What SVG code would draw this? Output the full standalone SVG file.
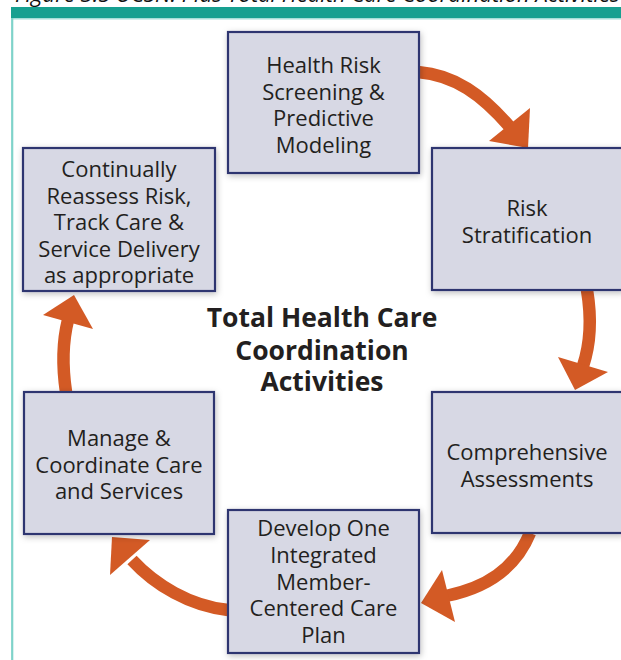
<svg xmlns="http://www.w3.org/2000/svg" width="621" height="660" viewBox="0 0 621 660">
<defs>
<style>
.box{fill:#d7d8e4;stroke:#2f3670;stroke-width:2.2;filter:url(#sh)}
.t{font-family:"Open Sans","Noto Sans",sans-serif;font-size:22px;fill:#231f20;text-anchor:middle}
.title{font-family:"Open Sans","Noto Sans",sans-serif;font-size:26.5px;font-weight:bold;fill:#231f20;text-anchor:middle}
.arc{fill:none;stroke:#d35a25;stroke-width:12.5}
.head{fill:#d35a25}
</style>
<filter id="sh" x="-20%" y="-20%" width="140%" height="140%">
<feDropShadow dx="1" dy="2" stdDeviation="3" flood-color="#000" flood-opacity="0.25"/>
</filter>
</defs>
<rect width="621" height="660" fill="#ffffff"/>
<text x="15" y="2" font-family="Open Sans, sans-serif" font-size="22" font-style="italic" fill="#111">Figure 3.5 UCSN: Plus Total Health Care Coordination Activities</text>
<g id="frame">
<rect x="11" y="7" width="610" height="11" fill="#17a090"/>
<line x1="11" y1="18.8" x2="621" y2="18.8" stroke="#a6ded8" stroke-width="1.6"/>
<line x1="12.2" y1="18" x2="12.2" y2="660" stroke="#7fd3ca" stroke-width="2.2"/>
</g>
<g id="connectors">
<path class="arc" d="M418,72 C455,75 482,95 509,126"/>
<polygon class="head" points="489,141 530,108 528,148"/>
<path class="arc" d="M587,290 C592,320 590,345 583,366"/>
<polygon class="head" points="558,357 608,372 575,390"/>
<path class="arc" d="M530,533 C515,570 485,588 446,596"/>
<polygon class="head" points="442,570 455,622 421,603"/>
<path class="arc" d="M228,610 C190,606 155,585 132,560"/>
<polygon class="head" points="110,575 150,540 112,537"/>
<path class="arc" d="M66,392 C62,365 63,340 68,320"/>
<polygon class="head" points="43,315 93,329 74,295"/>
</g>
<g id="n1">
<rect class="box" x="228" y="32" width="191" height="141"/>
<text class="t" x="323.5" y="73">Health Risk</text>
<text class="t" x="323.5" y="99.5">Screening &amp;</text>
<text class="t" x="323.5" y="126">Predictive</text>
<text class="t" x="323.5" y="152.5">Modeling</text>
</g>
<g id="n2">
<rect class="box" x="432" y="148" width="191" height="142"/>
<text class="t" x="527" y="216">Risk</text>
<text class="t" x="527" y="242.5">Stratification</text>
</g>
<g id="n3">
<rect class="box" x="23" y="148" width="192" height="143"/>
<text class="t" x="119" y="177">Continually</text>
<text class="t" x="119" y="203.5">Reassess Risk,</text>
<text class="t" x="119" y="230">Track Care &amp;</text>
<text class="t" x="119" y="256.5">Service Delivery</text>
<text class="t" x="119" y="283">as appropriate</text>
</g>
<g id="n4">
<rect class="box" x="432" y="392" width="191" height="141"/>
<text class="t" x="527" y="460">Comprehensive</text>
<text class="t" x="527" y="486.5">Assessments</text>
</g>
<g id="n5">
<rect class="box" x="24" y="392" width="190" height="142"/>
<text class="t" x="119" y="446">Manage &amp;</text>
<text class="t" x="119" y="472.5">Coordinate Care</text>
<text class="t" x="119" y="499">and Services</text>
</g>
<g id="n6">
<rect class="box" x="228" y="510" width="191" height="143"/>
<text class="t" x="323.5" y="536">Develop One</text>
<text class="t" x="323.5" y="563">Integrated</text>
<text class="t" x="323.5" y="589.5">Member-</text>
<text class="t" x="323.5" y="616">Centered Care</text>
<text class="t" x="323.5" y="642.5">Plan</text>
</g>
<g id="center">
<text class="title" x="322" y="327">Total Health Care</text>
<text class="title" x="322" y="359.5">Coordination</text>
<text class="title" x="322" y="391">Activities</text>
</g>
</svg>
